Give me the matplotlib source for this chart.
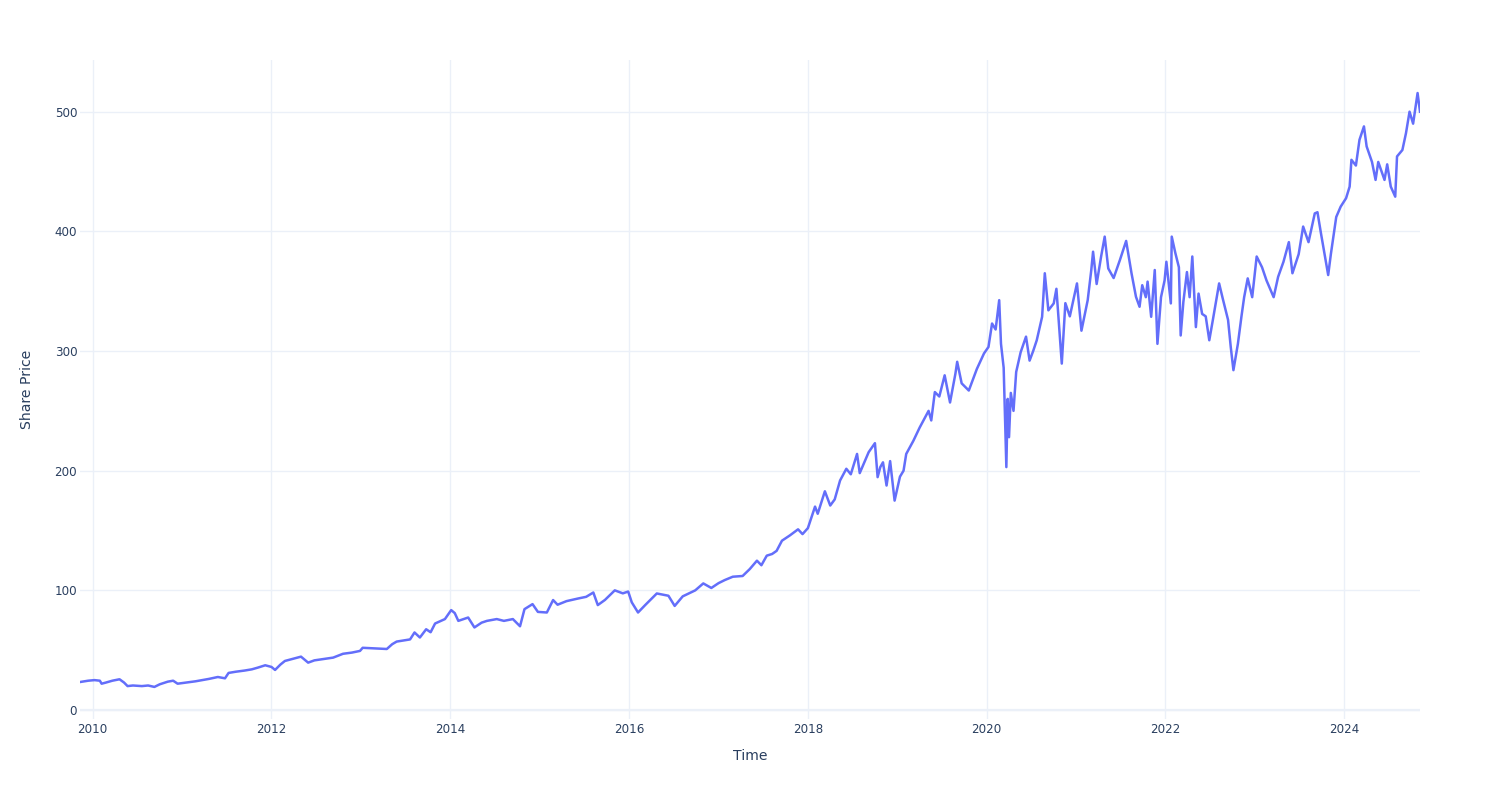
import matplotlib
matplotlib.use("Agg")
import matplotlib.pyplot as plt

# Decimal-year positions and share prices
years = [
    2009.858, 2009.95, 2010.02, 2010.08, 2010.10, 2010.15, 2010.22, 2010.30, 2010.35, 2010.39,
    2010.45, 2010.55, 2010.62, 2010.69, 2010.75, 2010.84, 2010.90, 2010.95, 2011.05, 2011.15,
    2011.22, 2011.30, 2011.40, 2011.48, 2011.52, 2011.60, 2011.70, 2011.78, 2011.85, 2011.93,
    2012.00, 2012.04, 2012.10, 2012.15, 2012.25, 2012.33, 2012.41, 2012.48, 2012.56, 2012.69,
    2012.80, 2012.90, 2012.99, 2013.02, 2013.15, 2013.29, 2013.35, 2013.40, 2013.55, 2013.60,
    2013.66, 2013.73, 2013.78, 2013.83, 2013.94, 2014.01, 2014.05, 2014.09, 2014.20, 2014.27,
    2014.35, 2014.41, 2014.52, 2014.60, 2014.70, 2014.78, 2014.83, 2014.92, 2014.98, 2015.08,
    2015.15, 2015.20, 2015.30, 2015.43, 2015.52, 2015.60, 2015.65, 2015.73, 2015.84, 2015.93,
    2015.99, 2016.03, 2016.10, 2016.18, 2016.31, 2016.44, 2016.51, 2016.60, 2016.74, 2016.83,
    2016.92, 2017.00, 2017.07, 2017.16, 2017.27, 2017.35, 2017.43, 2017.48, 2017.54, 2017.60,
    2017.65, 2017.71, 2017.80, 2017.89, 2017.94, 2018.00, 2018.08, 2018.11, 2018.19, 2018.25,
    2018.30, 2018.36, 2018.43, 2018.48, 2018.55, 2018.58, 2018.68, 2018.75, 2018.78, 2018.81,
    2018.84, 2018.88, 2018.92, 2018.97, 2019.03, 2019.07, 2019.10, 2019.18, 2019.25, 2019.35,
    2019.38, 2019.42, 2019.47, 2019.53, 2019.59, 2019.65, 2019.67, 2019.72, 2019.80, 2019.85,
    2019.89, 2019.97, 2020.02, 2020.06, 2020.10, 2020.14, 2020.16, 2020.19, 2020.22, 2020.235,
    2020.25, 2020.27, 2020.30, 2020.33, 2020.38, 2020.44, 2020.48, 2020.52, 2020.56, 2020.62,
    2020.65, 2020.69, 2020.75, 2020.78, 2020.84, 2020.88, 2020.93, 2021.01, 2021.06, 2021.13,
    2021.17, 2021.19, 2021.23, 2021.28, 2021.32, 2021.36, 2021.42, 2021.49, 2021.56, 2021.62,
    2021.67, 2021.71, 2021.74, 2021.78, 2021.80, 2021.84, 2021.88, 2021.91, 2021.95, 2021.99,
    2022.01, 2022.06, 2022.07, 2022.11, 2022.15, 2022.17, 2022.20, 2022.24, 2022.27, 2022.30,
    2022.34, 2022.37, 2022.41, 2022.45, 2022.49, 2022.53, 2022.60, 2022.64, 2022.70, 2022.73,
    2022.76, 2022.81, 2022.85, 2022.88, 2022.92, 2022.97, 2023.02, 2023.08, 2023.13, 2023.21,
    2023.26, 2023.32, 2023.38, 2023.42, 2023.49, 2023.54, 2023.60, 2023.67, 2023.70, 2023.74,
    2023.82, 2023.85, 2023.91, 2023.96, 2024.02, 2024.06, 2024.08, 2024.13, 2024.17, 2024.22,
    2024.25, 2024.31, 2024.35, 2024.38, 2024.45, 2024.48, 2024.52, 2024.57, 2024.59, 2024.65,
    2024.69, 2024.73, 2024.77, 2024.82, 2024.847,
]
prices = [
    23.4, 24.5, 25.0, 24.5, 22.0, 23.0, 24.5, 25.7, 23.0, 20.0,
    20.5, 20.0, 20.5, 19.3, 21.5, 23.7, 24.5, 22.0, 23.0, 24.0,
    24.9, 26.0, 27.6, 26.5, 31.0, 32.0, 33.0, 34.0, 35.5, 37.4,
    36.0, 33.5, 38.0, 41.0, 43.0, 44.6, 39.6, 41.5, 42.4, 43.8,
    47.0, 48.0, 49.4, 52.0, 51.5, 51.0, 55.0, 57.2, 59.0, 64.8,
    60.6, 67.5, 65.0, 72.3, 76.0, 83.5, 81.0, 74.5, 77.3, 69.0,
    73.0, 74.5, 76.0, 74.5, 76.0, 70.0, 84.3, 88.5, 82.0, 81.5,
    91.9, 88.0, 91.0, 93.2, 94.6, 98.2, 87.7, 92.0, 100.0, 97.5,
    99.0, 90.0, 81.5, 87.7, 97.4, 95.5, 87.0, 95.0, 100.0, 105.8,
    102.0, 106.0, 108.6, 111.4, 112.0, 117.8, 124.8, 121.0, 129.0, 130.4,
    133.0, 141.5, 146.0, 151.0, 147.0, 152.0, 170.0, 164.0, 182.8, 170.9,
    176.0, 191.8, 201.6, 197.0, 214.0, 198.0, 215.5, 223.0, 194.6, 203.0,
    207.0, 187.6, 208.0, 175.0, 195.0, 200.0, 214.0, 225.0, 236.0, 250.0,
    242.0, 265.7, 262.0, 279.7, 257.0, 281.0, 291.0, 273.0, 267.0, 277.0,
    285.0, 298.0, 303.4, 323.0, 318.0, 342.5, 306.0, 286.0, 203.0, 260.0,
    228.0, 265.0, 250.0, 282.5, 299.0, 312.0, 292.0, 300.0, 309.0, 328.6,
    365.0, 334.0, 339.8, 352.0, 289.5, 340.0, 329.0, 356.5, 317.0, 342.5,
    367.7, 383.0, 356.0, 379.0, 395.6, 369.0, 361.0, 376.0, 392.0, 365.0,
    345.3, 337.0, 355.0, 345.0, 358.0, 328.6, 367.7, 306.0, 345.0, 359.0,
    374.6, 339.8, 395.6, 382.0, 370.0, 313.0, 341.0, 366.0, 345.0, 379.0,
    320.0, 348.0, 331.0, 329.0, 309.0, 326.0, 356.5, 344.0, 326.0, 303.4,
    284.0, 306.0, 329.0, 345.0, 360.7, 345.0, 379.0, 370.0, 359.0, 345.0,
    362.0, 374.6, 391.0, 365.0, 381.0, 404.0, 391.0, 415.0, 416.0, 398.0,
    363.5, 381.0, 412.0, 420.7, 427.7, 437.4, 459.8, 455.0, 476.5, 487.7,
    471.0, 458.0, 443.0, 458.0, 443.0, 456.0, 437.4, 429.0, 462.6, 468.0,
    482.0, 500.0, 490.0, 515.6, 500.0,
]
x_ticks = [2010, 2012, 2014, 2016, 2018, 2020, 2022, 2024]
y_ticks = [0, 100, 200, 300, 400, 500]

TXT = "#2a3f5f"
GRID = "#EBF0F8"
LINE = "#636EFA"

plt.rcParams["font.family"] = ["DejaVu Sans"]

fig = plt.figure(figsize=(15, 8), dpi=100)
ax = fig.add_axes([80 / 1500, 81 / 800, 1340 / 1500, 659 / 800])

ax.plot(years, prices, color=LINE, lw=1.8, zorder=3, solid_joinstyle="round")
ax.axhline(0, color=GRID, lw=1.6, zorder=2)

ax.set_xlim(2009.858, 2024.847)
ax.set_ylim(-7.5, 543.2)
ax.set_xticks(x_ticks)
ax.set_xticklabels([str(t) for t in x_ticks])
ax.set_yticks(y_ticks)
ax.set_yticklabels([str(t) for t in y_ticks])

ax.grid(True, color=GRID, lw=1, zorder=0)
ax.set_axisbelow(True)
for s in ax.spines.values():
    s.set_visible(False)
ax.tick_params(axis="both", length=0, colors=TXT, labelsize=8.6)
ax.tick_params(axis="x", pad=3)
ax.tick_params(axis="y", pad=2)

fig.text(750 / 1500, 1 - 756 / 800, "Time", ha="center", va="center", color=TXT, fontsize=10.1)
fig.text(27 / 1500, 1 - 389.5 / 800, "Share Price", ha="center", va="center", rotation=90,
         color=TXT, fontsize=10.1)

fig.savefig("out.png", dpi=100, facecolor="white")
